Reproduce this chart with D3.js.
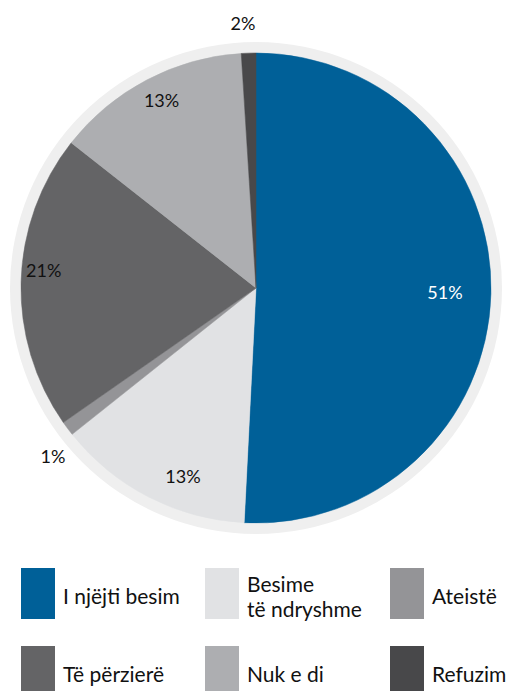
<!DOCTYPE html>
<html><head><meta charset="utf-8">
<script src="https://cdn.jsdelivr.net/npm/d3@7/dist/d3.min.js"></script>
<style>
html,body{margin:0;padding:0;background:#fff;}
svg{display:block;}
text{font-family:"Lato","Open Sans",sans-serif;font-weight:400;}
</style></head>
<body>
<script>
const categories = ["I njëjti besim", "Besime të ndryshme", "Ateistë", "Të përzierë", "Nuk e di", "Refuzim"];
const values = [50.8, 13.5, 1.0, 20.3, 13.4, 1.0];
const valueLabels = ["51%", "13%", "1%", "21%", "13%", "2%"];
const colors = ["#006098", "#E1E2E4", "#949497", "#646466", "#ADAEB1", "#48484A"];
const legendLines = [["I njëjti besim"], ["Besime", "të ndryshme"], ["Ateistë"], ["Të përzierë"], ["Nuk e di"], ["Refuzim"]];

const W = 516, H = 691;
const cx = 256, cy = 288, R = 235, ringR = 246;

const svg = d3.select("body").append("svg").attr("width", W).attr("height", H);

svg.append("circle").attr("cx", cx).attr("cy", cy).attr("r", ringR).attr("fill", "#EFEFEF");

const data = categories.map((c, i) => ({name: c, value: values[i], label: valueLabels[i], color: colors[i]}));
const pie = d3.pie().value(d => d.value).sort(null);
const arcs = pie(data);
const arc = d3.arc().innerRadius(0).outerRadius(R);

const g = svg.append("g").attr("transform", `translate(${cx},${cy})`);
g.selectAll("path").data(arcs).join("path")
  .attr("d", arc).attr("fill", d => d.data.color)
  .attr("stroke", d => d.data.color).attr("stroke-width", 0.5);

const labelR = [189, 202, 264, 213, 210, 265];
const labelShift = [0, -6, -3, 3, 1, -1];
g.selectAll("text.val").data(arcs).join("text")
  .attr("class", "val")
  .attr("transform", (d, i) => {
    const a = (d.startAngle + d.endAngle) / 2 + labelShift[i] * Math.PI / 180;
    return `translate(${Math.sin(a) * labelR[i]},${-Math.cos(a) * labelR[i]})`;
  })
  .attr("text-anchor", "middle").attr("dy", "0.36em")
  .attr("font-size", 18)
  .attr("fill", (d, i) => i === 0 ? "#ffffff" : "#111111")
  .text(d => d.data.label);

const colX = d3.scaleOrdinal().domain([0, 1, 2]).range([21, 205, 390]);
const rowY = d3.scaleOrdinal().domain([0, 1]).range([568, 646]);
const lg = svg.append("g");
data.forEach((d, i) => {
  const col = i % 3, row = Math.floor(i / 3);
  const x = colX(col), y = rowY(row);
  lg.append("rect").attr("x", x).attr("y", y).attr("width", 34).attr("height", 51).attr("fill", d.color);
  const lines = legendLines[i];
  const t = lg.append("text").attr("font-size", 21).attr("fill", "#111111");
  const midY = y + 30;
  lines.forEach((ln, k) => {
    t.append("tspan").attr("x", x + 42)
      .attr("y", midY + (k - (lines.length - 1) / 2) * 25 + 6)
      .text(ln);
  });
});
</script>
</body></html>
